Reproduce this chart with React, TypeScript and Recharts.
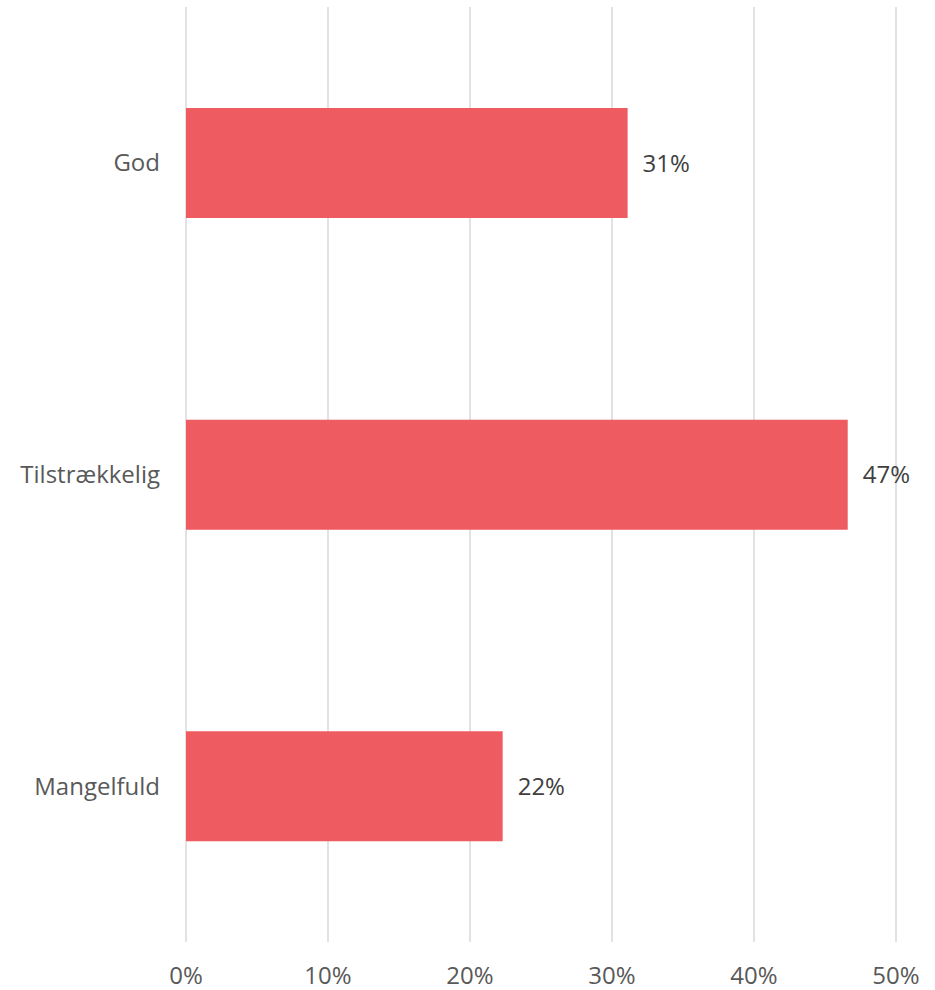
import { BarChart, Bar, XAxis, YAxis, CartesianGrid, LabelList } from "recharts";

const categories = ["God", "Tilstrækkelig", "Mangelfuld"];
const shares = [31.1, 46.6, 22.3];
const xTicks = [0, 10, 20, 30, 40, 50];

const data = categories.map((name, i) => ({ name, share: shares[i] }));

const textColor = "#595959";

export default function App() {
  return (
    <div style={{ position: "absolute", left: 0, top: 0, fontFamily: "'Open Sans', sans-serif" }}>
      <BarChart
        width={935}
        height={990}
        data={data}
        layout="vertical"
        margin={{ top: 7, right: 39, bottom: 0, left: 0 }}
      >
        <CartesianGrid horizontal={false} stroke="#d9d9d9" strokeWidth={1.5} />
        <XAxis
          type="number"
          domain={[0, 50]}
          ticks={xTicks}
          tickFormatter={(v) => `${v}%`}
          axisLine={false}
          tickLine={false}
          height={48}
          tick={{ fill: textColor, fontSize: 24 }}
          dy={17}
        />
        <YAxis
          type="category"
          dataKey="name"
          width={186}
          axisLine={false}
          tickLine={false}
          tick={{ fill: textColor, fontSize: 24 }}
          dx={-18}
        />
        <Bar dataKey="share" fill="#ee5b60" barSize={110} isAnimationActive={false}>
          <LabelList
            dataKey="share"
            position="right"
            offset={15}
            formatter={(v: number) => `${Math.round(v)}%`}
            style={{ fill: "#404040", fontSize: 24 }}
          />
        </Bar>
      </BarChart>
    </div>
  );
}
